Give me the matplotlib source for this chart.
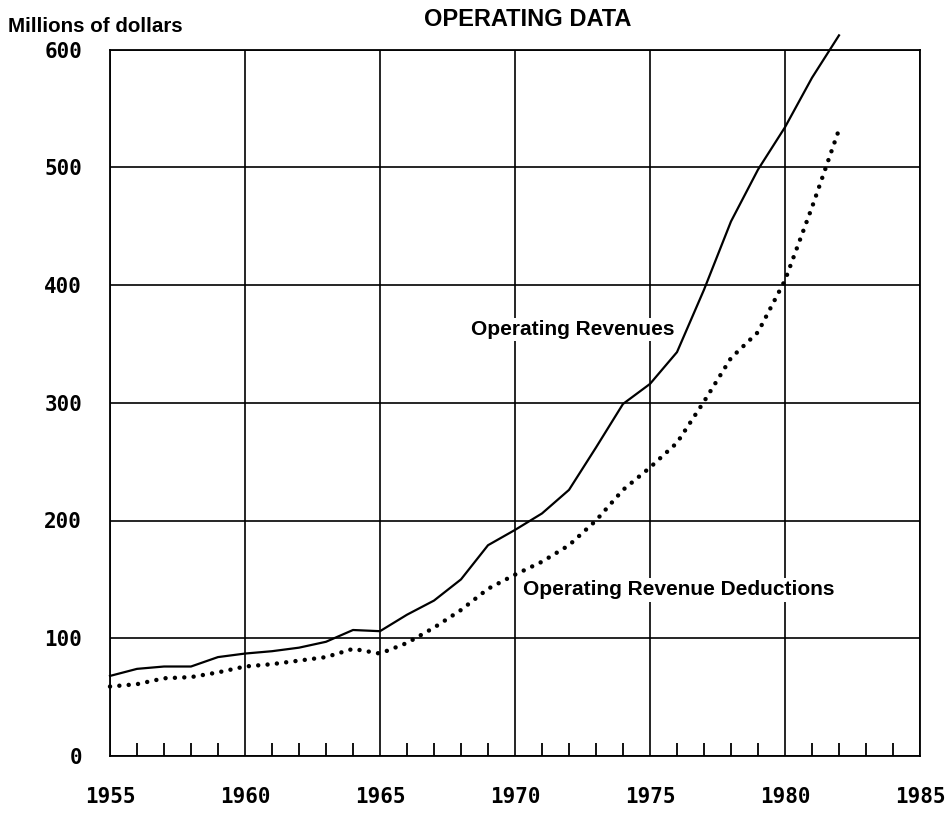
import matplotlib
matplotlib.use("Agg")
import matplotlib.pyplot as plt
from matplotlib.ticker import MultipleLocator

# values, millions of dollars
years = list(range(1955, 1983))
revenues = [68, 74, 76, 76, 84, 87, 89, 92, 97, 107, 106, 120, 132, 150,
            179, 192, 206, 226, 262, 299, 316, 343, 396, 454, 498, 534, 576, 612]
deductions = [59, 61, 66, 67, 71, 76, 78, 81, 84, 91, 87, 96, 109, 124,
              142, 154, 165, 179, 200, 226, 245, 266, 301, 338, 360, 404, 466, 532]

x_ticks = [1955, 1960, 1965, 1970, 1975, 1980, 1985]
y_ticks = [0, 100, 200, 300, 400, 500, 600]

fig = plt.figure(figsize=(9.52, 8.16), dpi=100)
ax = fig.add_axes([110 / 952, 1 - 756 / 816, 810 / 952, (756 - 49.5) / 816])

ax.set_xlim(1955, 1985)
ax.set_ylim(0, 600)

# grid first, labels sit on white boxes over it
ax.grid(True, color="black", linewidth=1.2)
ax.set_axisbelow(True)

ax.plot(years, revenues, color="black", linewidth=1.6, clip_on=False, zorder=3)
ax.plot(years, deductions, color="black", linewidth=3.2,
        linestyle=(0, (0.01, 2.1)), dash_capstyle="round", clip_on=False, zorder=3)

for sp in ax.spines.values():
    sp.set_linewidth(1.3)
    sp.set_color("black")

ax.set_xticks(x_ticks)
ax.set_yticks(y_ticks)
ax.xaxis.set_minor_locator(MultipleLocator(1))
ax.tick_params(which="major", length=0)
ax.tick_params(axis="x", which="major", pad=22)
ax.tick_params(axis="y", which="major", pad=20)
ax.tick_params(axis="x", which="minor", direction="in", length=9.5, width=1.3,
               top=False, bottom=True)
ax.tick_params(axis="y", which="minor", length=0)

for lbl in ax.get_xticklabels() + ax.get_yticklabels():
    lbl.set_fontfamily("DejaVu Sans Mono")
    lbl.set_fontsize(15)
    lbl.set_fontweight("bold")

label_font = dict(family="Liberation Sans", size=15, weight="bold")
box = dict(facecolor="white", edgecolor="none", pad=1.5)
ax.text(1968.37, 362, "Operating Revenues", ha="left", va="center",
        bbox=box, zorder=4, **label_font)
ax.text(1970.3, 141, "Operating Revenue Deductions", ha="left", va="center",
        bbox=box, zorder=4, **label_font)

fig.text(528 / 952, 1 - 20 / 816, "OPERATING DATA", ha="center", va="center",
         family="Liberation Sans", size=17, weight="bold")
fig.text(8 / 952, 1 - 27 / 816, "Millions of dollars", ha="left", va="center",
         family="Liberation Sans", size=14.8, weight="bold")

fig.savefig("out.png", dpi=100)
